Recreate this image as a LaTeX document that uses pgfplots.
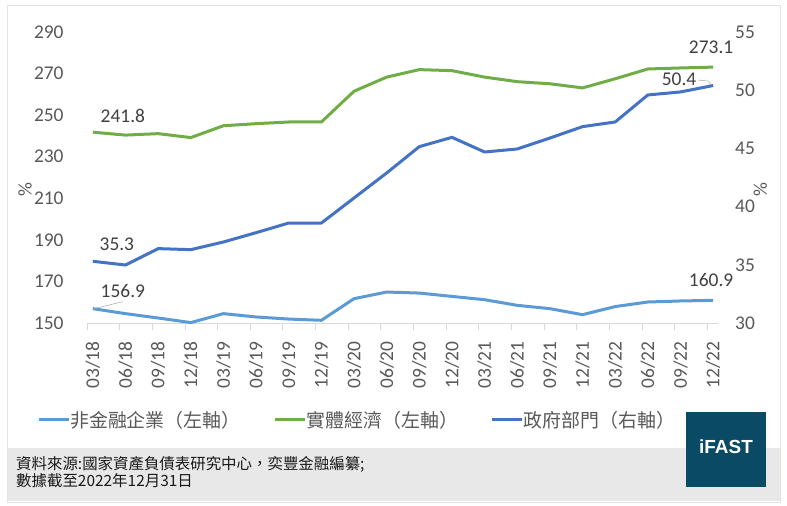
\documentclass[border=0pt]{standalone}
\usepackage{fontspec}
\setmainfont{Carlito}
\newfontfamily\cjk{Noto Sans CJK TC}
\newfontfamily\arialfont{Liberation Sans}
\usepackage{pgfplots}
\pgfplotsset{compat=1.18}
\definecolor{lb}{HTML}{5B9BD5}
\definecolor{gr}{HTML}{70AD47}
\definecolor{db}{HTML}{4472C4}
\definecolor{txt}{HTML}{595959}
\definecolor{lbltxt}{HTML}{404040}
\definecolor{axisgrey}{HTML}{D9D9D9}
\definecolor{band}{HTML}{E8E8E8}
\definecolor{framegrey}{HTML}{E3E3E3}
\definecolor{ifast}{HTML}{0B4A64}
\definecolor{leader}{HTML}{A6A6A6}

\pgfplotstableread{
x nonfin real
0  156.9 241.8
1  154.5 240.4
2  152.4 241.1
3  150.2 239.2
4  154.5 244.9
5  152.9 245.9
6  151.9 246.7
7  151.3 246.7
8  161.7 261.5
9  164.9 268.3
10 164.4 271.9
11 162.8 271.4
12 161.2 268.3
13 158.5 266.1
14 156.9 265.1
15 154.0 263.1
16 157.9 267.5
17 160.1 272.2
18 160.6 272.7
19 160.9 273.1
}\lefttable

\pgfplotstableread{
x gov
0  35.30
1  34.98
2  36.39
3  36.30
4  36.96
5  37.76
6  38.59
7  38.59
8  40.74
9  42.89
10 45.15
11 45.95
12 44.69
13 44.95
14 45.89
15 46.87
16 47.27
17 49.59
18 49.85
19 50.40
}\righttable

\begin{document}
\begin{tikzpicture}
\useasboundingbox (0bp,0bp) rectangle (787bp,506bp);
\fill[white] (0bp,0bp) rectangle (787bp,506bp);
\draw[framegrey, line width=0.75bp] (7bp,4bp) rectangle (780bp,501bp);
\fill[band] (8bp,4.5bp) rectangle (779.5bp,58bp);
\fill[ifast] (686bp,19bp) rectangle (766bp,94bp);
\node[text=white, font=\arialfont\bfseries\fontsize{19}{19}\selectfont, inner sep=0pt] at (726bp,59bp) {iFAST};
\node[anchor=base west, inner sep=0pt, text=black!90, font=\cjk\fontsize{15.5}{17}\selectfont] at (16bp,37bp) {資料來源:國家資產負債表研究中心，奕豐金融編纂;};
\node[anchor=base west, inner sep=0pt, text=black!90, font=\cjk\fontsize{15.5}{17}\selectfont] at (16bp,20bp) {數據截至2022年12月31日};

\begin{axis}[
  at={(87bp,183bp)}, anchor=south west,
  scale only axis, width=631bp, height=291bp,
  xmin=-0.18, xmax=19.15, ymin=150, ymax=290,
  axis x line*=bottom, axis y line*=left,
  x axis line style={draw=axisgrey, line width=0.75bp},
  y axis line style={draw=none},
  xtick={0,...,19},
  xticklabels={03/18,06/18,09/18,12/18,03/19,06/19,09/19,12/19,03/20,06/20,09/20,12/20,03/21,06/21,09/21,12/21,03/22,06/22,09/22,12/22},
  minor xtick={-0.18,0.82,...,18.82},
  major x tick style={draw=none},
  minor x tick style={draw=axisgrey, line width=0.75bp},
  minor tick length=7bp,
  tick align=outside,
  ytick={150,170,...,290},
  ytick style={draw=none},
  xticklabel style={rotate=90, anchor=east, inner sep=0pt},
  xticklabel shift=14bp,
  yticklabel style={anchor=east, inner sep=0pt},
  yticklabel shift=19bp,
  ticklabel style={font=\fontsize{19.5}{20}\selectfont, text=txt},
  /pgf/number format/assume math mode=true,
  ylabel={\%},
  ylabel style={at={(axis description cs:-0.098,0.457)}, anchor=center, font=\fontsize{19.5}{20}\selectfont, text=txt},
  clip=false,
  legend columns=3,
  legend cell align=left,
  legend style={at={(axis description cs:-0.079,-0.333)}, anchor=west, draw=none, fill=none, inner sep=0pt, outer sep=0pt,
    font=\cjk\fontsize{19}{19}\selectfont, text=txt, nodes={inner sep=0pt},
    /tikz/every even column/.append style={column sep=33bp}},
  legend image code/.code={\draw[#1] (0bp,0bp) -- (30bp,0bp);},
]
\addplot[lb, line width=3bp, line join=round, no markers] table[x=x, y=nonfin] {\lefttable};
\addlegendentry{非金融企業（左軸）}
\addplot[gr, line width=3bp, line join=round, no markers] table[x=x, y=real] {\lefttable};
\addlegendentry{實體經濟（左軸）}
\addlegendimage{db, line width=3bp}
\addlegendentry{政府部門（右軸）}

\node[text=lbltxt, font=\fontsize{19.5}{20}\selectfont, inner sep=0pt, xshift=30bp, yshift=16bp] at (axis cs:0,241.8) {241.8};
\node[text=lbltxt, font=\fontsize{19.5}{20}\selectfont, inner sep=0pt, xshift=30bp, yshift=18bp] at (axis cs:0,156.9) {156.9};
\draw[leader, line width=0.5bp] (axis cs:0,156.9) ++(1bp,0bp) -- ++(29bp,7bp);
\node[text=lbltxt, font=\fontsize{19.5}{20}\selectfont, inner sep=0pt, xshift=-2bp, yshift=20bp] at (axis cs:19,273.1) {273.1};
\node[text=lbltxt, font=\fontsize{19.5}{20}\selectfont, inner sep=0pt, xshift=-2bp, yshift=20bp] at (axis cs:19,160.9) {160.9};
\end{axis}

\begin{axis}[
  at={(87bp,183bp)}, anchor=south west,
  scale only axis, width=631bp, height=291bp,
  xmin=-0.18, xmax=19.15, ymin=30, ymax=55,
  axis y line*=right, axis x line=none,
  y axis line style={draw=none},
  ytick={30,35,...,55},
  ytick style={draw=none},
  yticklabel style={anchor=west, inner sep=0pt},
  yticklabel shift=17bp,
  ticklabel style={font=\fontsize{19.5}{20}\selectfont, text=txt},
  /pgf/number format/assume math mode=true,
  ylabel={\%},
  ylabel style={at={(axis description cs:1.067,0.457)}, anchor=center, font=\fontsize{19.5}{20}\selectfont, text=txt},
  clip=false,
]
\addplot[db, line width=3bp, line join=round, no markers] table[x=x, y=gov] {\righttable};
\node[text=lbltxt, font=\fontsize{19.5}{20}\selectfont, inner sep=0pt, xshift=24bp, yshift=17bp] at (axis cs:0,35.3) {35.3};
\node[text=lbltxt, font=\fontsize{19.5}{20}\selectfont, inner sep=0pt, xshift=-34bp, yshift=6bp] at (axis cs:19,50.4) {50.4};
\draw[leader, line width=0.5bp] (axis cs:19,50.4) ++(-15bp,5.5bp) -- ++(10bp,-1bp) -- ++(3bp,-4bp);
\end{axis}
\end{tikzpicture}
\end{document}
